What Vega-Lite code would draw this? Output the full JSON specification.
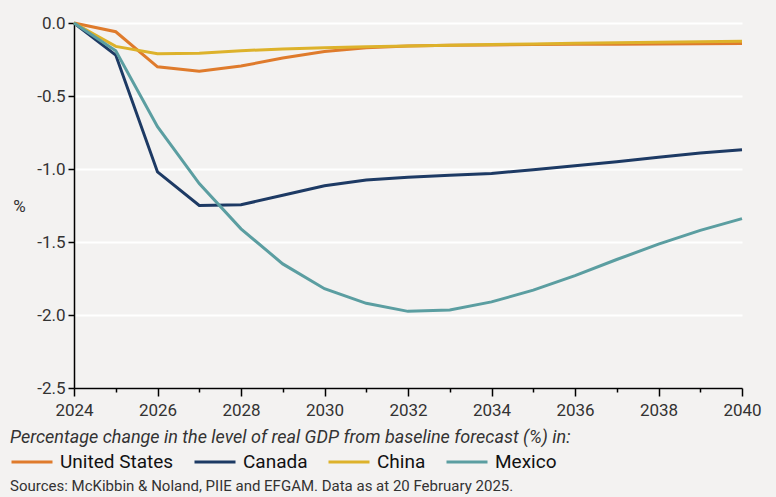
{
  "$schema": "https://vega.github.io/schema/vega-lite/v6.json",
  "width": 668,
  "height": 365,
  "autosize": {"type": "none"},
  "padding": {"left": 74, "top": 23, "right": 34, "bottom": 109},
  "background": "#f3f2f1",
  "config": {
    "view": {"stroke": null},
    "font": "Roboto",
    "title": {"font": "Roboto"},
    "axis": {"labelFont": "Roboto", "titleFont": "Roboto"},
    "legend": {"labelFont": "Roboto", "titleFont": "Roboto"}
  },
  "title": {
    "text": "Sources: McKibbin & Noland, PIIE and EFGAM. Data as at 20 February 2025.",
    "orient": "bottom",
    "anchor": "start",
    "frame": "group",
    "dx": -64,
    "offset": 7,
    "fontSize": 15,
    "fontWeight": "normal",
    "color": "#333333"
  },
  "data": {
    "values": [
      {"year": 2024, "country": "United States", "value": 0},
      {"year": 2025, "country": "United States", "value": -0.06},
      {"year": 2026, "country": "United States", "value": -0.30},
      {"year": 2027, "country": "United States", "value": -0.33},
      {"year": 2028, "country": "United States", "value": -0.295},
      {"year": 2029, "country": "United States", "value": -0.24},
      {"year": 2030, "country": "United States", "value": -0.195},
      {"year": 2031, "country": "United States", "value": -0.17},
      {"year": 2032, "country": "United States", "value": -0.158},
      {"year": 2033, "country": "United States", "value": -0.153},
      {"year": 2034, "country": "United States", "value": -0.15},
      {"year": 2035, "country": "United States", "value": -0.148},
      {"year": 2036, "country": "United States", "value": -0.146},
      {"year": 2037, "country": "United States", "value": -0.145},
      {"year": 2038, "country": "United States", "value": -0.143},
      {"year": 2039, "country": "United States", "value": -0.142},
      {"year": 2040, "country": "United States", "value": -0.14},
      {"year": 2024, "country": "Canada", "value": 0},
      {"year": 2025, "country": "Canada", "value": -0.22},
      {"year": 2026, "country": "Canada", "value": -1.02},
      {"year": 2027, "country": "Canada", "value": -1.25},
      {"year": 2028, "country": "Canada", "value": -1.245},
      {"year": 2029, "country": "Canada", "value": -1.18},
      {"year": 2030, "country": "Canada", "value": -1.115},
      {"year": 2031, "country": "Canada", "value": -1.075},
      {"year": 2032, "country": "Canada", "value": -1.057},
      {"year": 2033, "country": "Canada", "value": -1.043},
      {"year": 2034, "country": "Canada", "value": -1.03},
      {"year": 2035, "country": "Canada", "value": -1.005},
      {"year": 2036, "country": "Canada", "value": -0.978},
      {"year": 2037, "country": "Canada", "value": -0.95},
      {"year": 2038, "country": "Canada", "value": -0.92},
      {"year": 2039, "country": "Canada", "value": -0.89},
      {"year": 2040, "country": "Canada", "value": -0.868},
      {"year": 2024, "country": "China", "value": 0},
      {"year": 2025, "country": "China", "value": -0.16},
      {"year": 2026, "country": "China", "value": -0.21},
      {"year": 2027, "country": "China", "value": -0.208},
      {"year": 2028, "country": "China", "value": -0.19},
      {"year": 2029, "country": "China", "value": -0.178},
      {"year": 2030, "country": "China", "value": -0.17},
      {"year": 2031, "country": "China", "value": -0.163},
      {"year": 2032, "country": "China", "value": -0.157},
      {"year": 2033, "country": "China", "value": -0.152},
      {"year": 2034, "country": "China", "value": -0.148},
      {"year": 2035, "country": "China", "value": -0.143},
      {"year": 2036, "country": "China", "value": -0.139},
      {"year": 2037, "country": "China", "value": -0.135},
      {"year": 2038, "country": "China", "value": -0.131},
      {"year": 2039, "country": "China", "value": -0.128},
      {"year": 2040, "country": "China", "value": -0.125},
      {"year": 2024, "country": "Mexico", "value": 0},
      {"year": 2025, "country": "Mexico", "value": -0.19},
      {"year": 2026, "country": "Mexico", "value": -0.71},
      {"year": 2027, "country": "Mexico", "value": -1.10},
      {"year": 2028, "country": "Mexico", "value": -1.41},
      {"year": 2029, "country": "Mexico", "value": -1.65},
      {"year": 2030, "country": "Mexico", "value": -1.82},
      {"year": 2031, "country": "Mexico", "value": -1.92},
      {"year": 2032, "country": "Mexico", "value": -1.975},
      {"year": 2033, "country": "Mexico", "value": -1.965},
      {"year": 2034, "country": "Mexico", "value": -1.91},
      {"year": 2035, "country": "Mexico", "value": -1.83},
      {"year": 2036, "country": "Mexico", "value": -1.73},
      {"year": 2037, "country": "Mexico", "value": -1.62},
      {"year": 2038, "country": "Mexico", "value": -1.515},
      {"year": 2039, "country": "Mexico", "value": -1.42},
      {"year": 2040, "country": "Mexico", "value": -1.34}
    ]
  },
  "mark": {"type": "line", "strokeWidth": 3, "clip": false},
  "encoding": {
    "x": {
      "field": "year",
      "type": "quantitative",
      "scale": {"domain": [2024, 2040], "nice": false, "zero": false},
      "axis": {
        "title": null,
        "grid": false,
        "values": [2024, 2025, 2026, 2027, 2028, 2029, 2030, 2031, 2032, 2033, 2034, 2035, 2036, 2037, 2038, 2039, 2040],
        "labelExpr": "datum.value % 2 === 0 ? '' + datum.value : ''",
        "labelFontSize": 17,
        "labelColor": "#333333",
        "labelPadding": 6,
        "labelFlush": false,
        "labelOverlap": false,
        "domainColor": "#000000",
        "domainWidth": 1.5,
        "tickColor": "#000000",
        "tickWidth": 1.5,
        "tickSize": {"condition": {"test": "datum.value % 2 === 0", "value": 8}, "value": 4}
      }
    },
    "y": {
      "field": "value",
      "type": "quantitative",
      "scale": {"domain": [-2.5, 0], "nice": false, "zero": false},
      "axis": {
        "title": "%",
        "titleAngle": 0,
        "titleX": -55,
        "titleY": 183,
        "titleAlign": "center",
        "titleBaseline": "middle",
        "titleFontSize": 17,
        "titleFontWeight": "normal",
        "titleColor": "#333333",
        "values": [-2.5, -2, -1.5, -1, -0.5, 0],
        "labelExpr": "replace(format(datum.value, '.1f'), '\u2212', '-')",
        "labelFontSize": 17,
        "labelColor": "#333333",
        "labelPadding": 3,
        "tickSize": 6,
        "tickColor": "#000000",
        "tickWidth": 1.5,
        "domainColor": "#000000",
        "domainWidth": 1.5,
        "grid": true,
        "gridColor": "#ffffff",
        "gridWidth": 2
      }
    },
    "color": {
      "field": "country",
      "type": "nominal",
      "scale": {
        "domain": ["United States", "Canada", "China", "Mexico"],
        "range": ["#df7b2c", "#1d3a64", "#ddb22b", "#5b9ea1"]
      },
      "legend": {
        "orient": "none",
        "legendX": -64,
        "legendY": 406,
        "direction": "horizontal",
        "title": "Percentage change in the level of real GDP from baseline forecast (%) in:",
        "titleFontStyle": "italic",
        "titleFontWeight": "normal",
        "titleFontSize": 18,
        "titleColor": "#333333",
        "titleLimit": 800,
        "titlePadding": -7,
        "labelFontSize": 19,
        "labelColor": "#111111",
        "labelOffset": 6,
        "labelLimit": 300,
        "symbolType": "stroke",
        "symbolSize": 1681,
        "symbolStrokeWidth": 3,
        "columnPadding": 14
      }
    }
  }
}
